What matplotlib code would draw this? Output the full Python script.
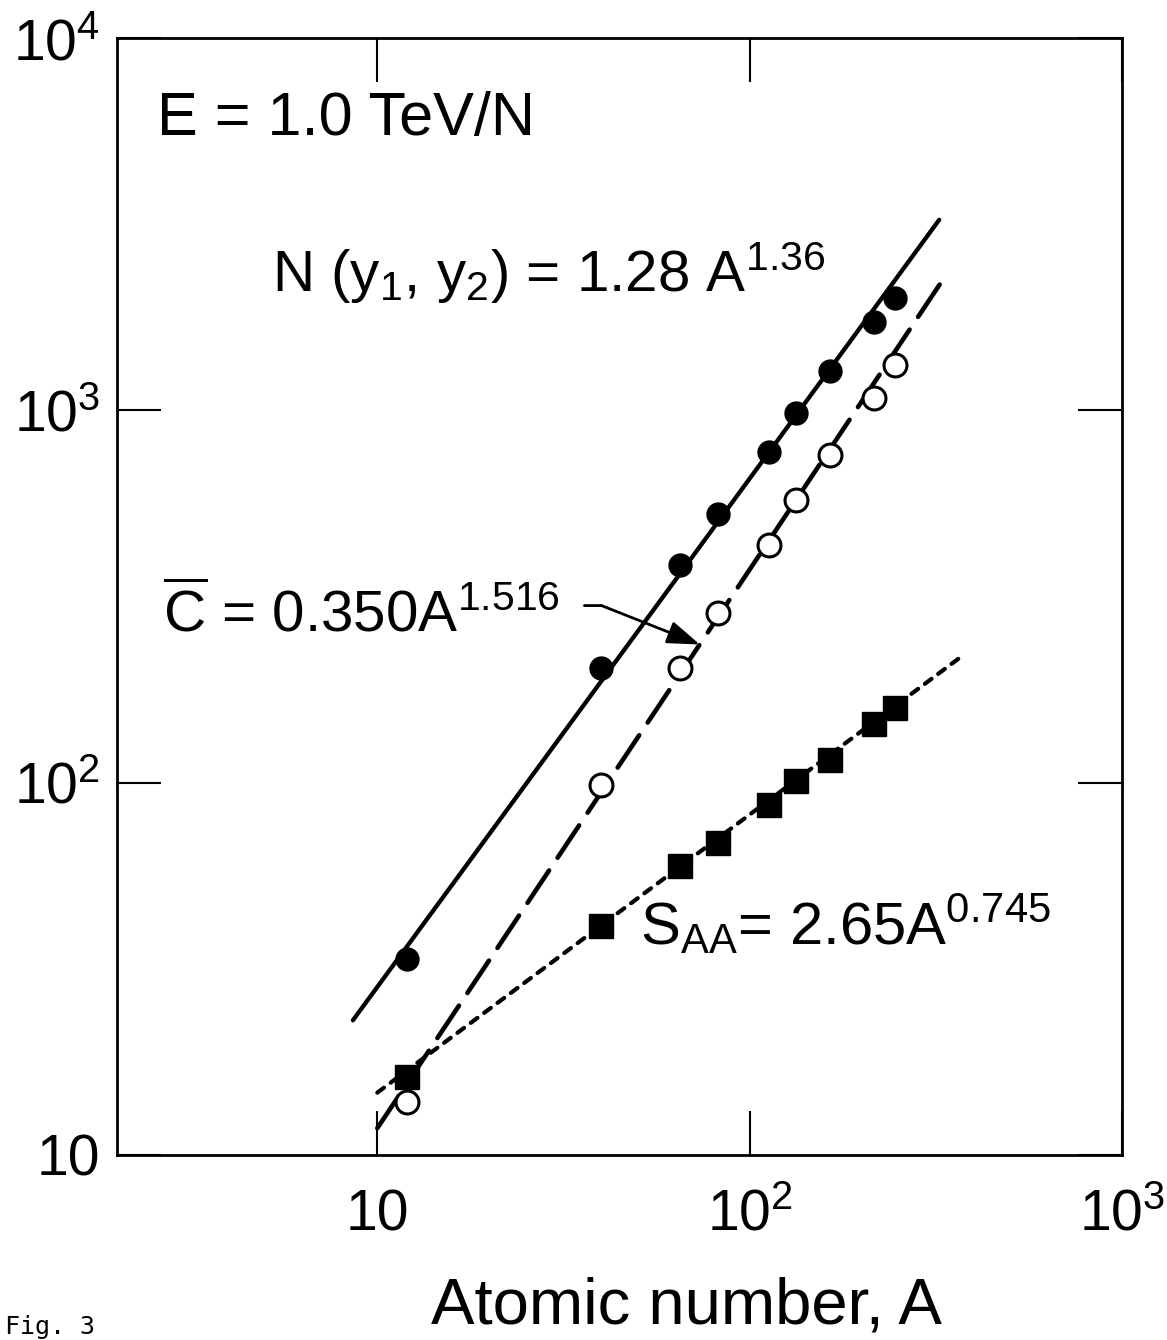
import matplotlib
matplotlib.use('Agg')
import matplotlib.pyplot as plt
import numpy as np

plt.rcParams['font.family'] = ['Liberation Sans', 'DejaVu Sans']
plt.rcParams['mathtext.fontset'] = 'custom'
plt.rcParams['mathtext.rm'] = 'Liberation Sans'
plt.rcParams['mathtext.it'] = 'Liberation Sans'
plt.rcParams['mathtext.default'] = 'rm'
plt.rcParams['lines.scale_dashes'] = False

# data
A = [12, 40, 65, 82, 113, 133, 164, 216, 246]
N_y1y2 = [33.6, 203, 385, 527, 773, 984, 1276, 1726, 2004]
C_bar = [13.9, 98.6, 203, 286, 435, 574, 759, 1080, 1324]
S_AA = [16.2, 41.2, 59.7, 68.9, 87.1, 101, 115, 144, 159]

# fit lines (end points)
fitN_x = [8.6, 323]
fitN_y = [23.0, 3250]
fitC_x = [10.0, 331]
fitC_y = [11.8, 2250]
fitS_x = [10.0, 377]
fitS_y = [14.7, 221]

xticks = [10, 100, 1000]
xticklabels = ['10', '10$^2$', '10$^3$']
yticks = [10, 100, 1000, 10000]
yticklabels = ['10', '10$^2$', '10$^3$', '10$^4$']

fig = plt.figure(figsize=(11.67, 13.40), dpi=100)
ax = fig.add_axes([0.1003, 0.1381, 0.8611, 0.8335])
ax.set_xscale('log')
ax.set_yscale('log')
ax.set_xlim(2, 1000)
ax.set_ylim(10, 1e4)

ax.plot(fitN_x, fitN_y, color='black', lw=3.1, solid_capstyle='round')
ax.plot(fitC_x, fitC_y, color='black', lw=3.3, dashes=(28, 11), dash_capstyle='round')
ax.plot(fitS_x, fitS_y, color='black', lw=3.0, dashes=(6, 6), dash_capstyle='round')

ax.plot(A, N_y1y2, 'o', color='black', ms=16.5, zorder=5)
ax.plot(A, C_bar, 'o', mfc='white', mec='black', mew=2.2, ms=16.5, zorder=5)
ax.plot(A, S_AA, 's', color='black', ms=17.5, zorder=6)

ax.set_xticks(xticks)
ax.set_xticklabels(xticklabels)
ax.set_yticks(yticks)
ax.set_yticklabels(yticklabels)
ax.minorticks_off()
ax.tick_params(which='major', direction='in', length=32, width=1.5,
               top=True, right=True, labelsize=41, pad=12)
ax.tick_params(axis='x', pad=24)
for s in ax.spines.values():
    s.set_linewidth(2)

def px(x, y):
    return x / 1167, 1 - y / 1340

fig.text(*px(686, 1324), 'Atomic number, A', fontsize=47, ha='center', va='baseline')
fig.text(*px(157, 135), 'E = 1.0 TeV/N', fontsize=44, va='baseline')
fig.text(*px(272, 292), 'N (y$_1$, y$_2$) = 1.28 A$^{1.36}$', fontsize=42, va='baseline')
fig.text(*px(163, 631), r'$\overline{\mathrm{C}}$ = 0.350A$^{1.516}$', fontsize=42, va='baseline')
fig.text(*px(640, 945), 'S$_{\\mathrm{AA}}$= 2.65A$^{0.745}$', fontsize=43, va='baseline')
fig.text(*px(5, 1339), 'Fig. 3', fontsize=18, va='bottom', family='DejaVu Sans Mono')

# arrow from C-bar label to the dashed fit
ax.annotate('', xy=(40.0, 299), xytext=(36.0, 299),
            arrowprops=dict(arrowstyle='-', lw=2, color='black',
                            shrinkA=0, shrinkB=0))
ax.annotate('', xy=(73.5, 235), xytext=(40.0, 299),
            arrowprops=dict(arrowstyle='-|>,head_length=1.0,head_width=0.35',
                            lw=2, color='black', shrinkA=0, shrinkB=0,
                            mutation_scale=20))

fig.savefig('out.png', dpi=100)
